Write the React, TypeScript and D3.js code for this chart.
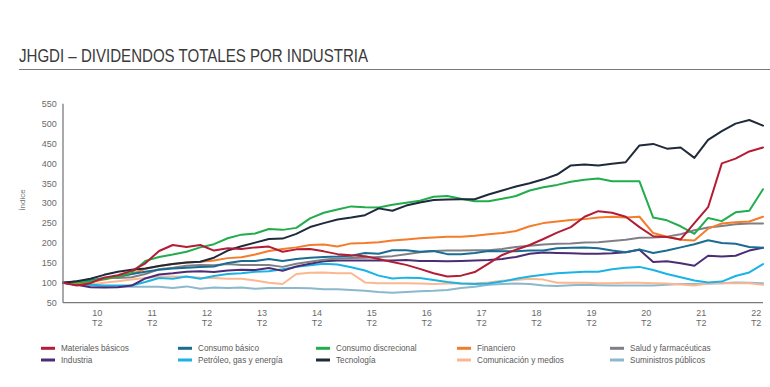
import React from "react";
import * as d3 from "d3";

const title = "JHGDI – DIVIDENDOS TOTALES POR INDUSTRIA";
const yAxisLabel = "Índice";
const yTicks = [50, 100, 150, 200, 250, 300, 350, 400, 450, 500, 550];
const yearLabels = ["10", "11", "12", "13", "14", "15", "16", "17", "18", "19", "20", "21", "22"];
const quarterLabel = "T2";

const materiales = [100, 93, 99, 113, 119, 130, 149, 180, 195, 190, 195, 181, 187, 185, 189, 191, 178, 184, 185, 179, 172, 169, 167, 160, 152, 145, 135, 124, 116, 118, 127, 148, 170, 183, 195, 210, 226, 240, 266, 280, 276, 266, 240, 217, 215, 209, 250, 290, 400, 412, 430, 440];
const consumoBasico = [100, 103, 106, 110, 116, 122, 128, 133, 136, 138, 140, 141, 150, 155, 155, 160, 155, 160, 163, 165, 166, 168, 175, 173, 182, 182, 178, 180, 172, 172, 175, 180, 179, 179, 181, 181, 187, 188, 189, 187, 181, 177, 184, 175, 181, 189, 197, 207, 200, 198, 190, 188];
const consumoDiscrecional = [100, 101, 104, 110, 115, 125, 155, 165, 171, 178, 189, 197, 212, 221, 224, 235, 233, 238, 262, 276, 284, 292, 290, 289, 296, 301, 306, 316, 318, 311, 305, 305, 311, 318, 332, 340, 346, 354, 359, 362, 355, 355, 355, 264, 257, 242, 223, 263, 255, 277, 281, 335];
const financiero = [100, 98, 102, 108, 115, 122, 135, 142, 147, 151, 153, 156, 162, 164, 171, 180, 185, 189, 195, 196, 191, 199, 200, 202, 206, 209, 212, 214, 216, 216, 218, 222, 225, 230, 242, 250, 254, 258, 260, 264, 266, 264, 266, 225, 216, 208, 206, 236, 249, 252, 254, 266];
const salud = [100, 102, 106, 113, 112, 114, 122, 134, 138, 143, 145, 144, 147, 145, 145, 145, 140, 148, 153, 158, 161, 162, 163, 165, 167, 172, 177, 180, 181, 181, 182, 182, 185, 190, 193, 196, 198, 199, 201, 202, 205, 208, 213, 214, 216, 222, 232, 239, 243, 247, 249, 249];
const industria = [100, 95, 89, 88, 89, 93, 111, 121, 124, 128, 129, 127, 131, 133, 132, 137, 130, 141, 148, 154, 156, 156, 156, 156, 156, 157, 155, 155, 154, 155, 156, 157, 160, 165, 173, 176, 175, 174, 173, 173, 174, 177, 183, 152, 154, 149, 143, 168, 166, 168, 181, 188];
const petroleo = [100, 96, 95, 93, 93, 93, 102, 112, 110, 116, 110, 117, 122, 124, 128, 129, 134, 140, 144, 148, 146, 139, 131, 118, 111, 113, 112, 107, 102, 98, 97, 98, 103, 110, 116, 120, 124, 126, 128, 128, 134, 138, 140, 132, 122, 114, 106, 101, 103, 117, 126, 147];
const tecnologia = [100, 104, 110, 120, 128, 133, 136, 142, 147, 151, 153, 163, 181, 192, 201, 210, 211, 223, 240, 250, 259, 264, 270, 287, 281, 294, 302, 308, 309, 310, 310, 322, 332, 342, 350, 360, 372, 395, 397, 395, 399, 403, 445, 449, 437, 440, 414, 459, 481, 500, 509, 495];
const comunicacion = [100, 95, 96, 100, 104, 108, 112, 116, 116, 115, 113, 112, 110, 110, 106, 100, 97, 122, 125, 126, 124, 124, 101, 99, 99, 99, 98, 97, 98, 98, 98, 101, 105, 107, 110, 108, 100, 100, 100, 99, 99, 100, 100, 99, 98, 96, 93, 98, 99, 99, 99, 95];
const suministros = [100, 95, 93, 91, 90, 90, 90, 90, 87, 91, 85, 88, 87, 88, 85, 87, 87, 87, 86, 84, 84, 82, 80, 77, 75, 77, 79, 80, 82, 87, 90, 95, 97, 98, 97, 93, 92, 94, 95, 94, 93, 93, 93, 93, 95, 97, 97, 98, 99, 101, 100, 99];

const seriesNames = [
  "Materiales básicos",
  "Consumo básico",
  "Consumo discrecional",
  "Financiero",
  "Salud y farmacéuticas",
  "Industria",
  "Petróleo, gas y energía",
  "Tecnología",
  "Comunicación y medios",
  "Suministros públicos",
];
const seriesValues = [materiales, consumoBasico, consumoDiscrecional, financiero, salud, industria, petroleo, tecnologia, comunicacion, suministros];
const seriesColors = ["#b41c36", "#1b6c93", "#22ad4c", "#f47c2b", "#7f7f86", "#4b2c75", "#1ab3e6", "#1f2a3b", "#fbb791", "#8bb8cd"];
const drawOrder = [9, 8, 6, 5, 4, 3, 1, 2, 7, 0];

const W = 770;
const H = 387;
const plot = { left: 63, right: 763, top: 103.7, bottom: 302.7 };

export default function App() {
  const n = tecnologia.length;
  const x = d3.scaleLinear().domain([0, n - 1]).range([plot.left, plot.right]);
  const y = d3.scaleLinear().domain([50, 550]).range([plot.bottom, plot.top]);
  const line = d3
    .line<number>()
    .x((_, i) => x(i))
    .y((v) => y(v));

  const legendCols = [41, 178, 316, 457, 610];
  const legendRows = [348.3, 360];
  const font = "'Liberation Sans', Arial, sans-serif";

  return (
    <svg
      width={W}
      height={H}
      style={{ position: "absolute", left: 0, top: 0, background: "#fff" }}
      fontFamily={font}
    >
      <text x={19} y={61.5} fontSize={18} fill="#3a3a3a" textLength={349} lengthAdjust="spacingAndGlyphs">
        {title}
      </text>
      <line x1={19} x2={W} y1={69.5} y2={69.5} stroke="#7a7a7a" strokeWidth={1.2} />

      <text
        transform={`translate(24.5,200) rotate(-90)`}
        textAnchor="middle"
        fontSize={8}
        fill="#777"
      >
        {yAxisLabel}
      </text>

      {yTicks.map((t) => (
        <text key={t} x={56.7} y={y(t) + 3.2} textAnchor="end" fontSize={9} fill="#6a6a6a">
          {t}
        </text>
      ))}

      {yearLabels.map((lab, k) => {
        const xi = x(2.5 + 4 * k);
        return (
          <g key={lab}>
            <text x={xi} y={316.3} textAnchor="middle" fontSize={9} fill="#6a6a6a">
              {lab}
            </text>
            <text x={xi} y={326} textAnchor="middle" fontSize={9} fill="#6a6a6a">
              {quarterLabel}
            </text>
          </g>
        );
      })}

      {drawOrder.map((si) => (
        <path
          key={si}
          d={line(seriesValues[si]) || ""}
          fill="none"
          stroke={seriesColors[si]}
          strokeWidth={2}
          strokeLinejoin="round"
          strokeLinecap="round"
        />
      ))}

      <line x1={plot.left} x2={plot.left} y1={plot.top} y2={plot.bottom} stroke="#7a7a7a" strokeWidth={1.3} />
      <line x1={plot.left} x2={plot.right} y1={plot.bottom} y2={plot.bottom} stroke="#7a7a7a" strokeWidth={1.3} />

      {seriesNames.map((name, i) => {
        const col = i % 5;
        const row = Math.floor(i / 5);
        const lx = legendCols[col];
        const ly = legendRows[row];
        return (
          <g key={name}>
            <line x1={lx} x2={lx + 14} y1={ly} y2={ly} stroke={seriesColors[i]} strokeWidth={3} />
            <text x={lx + 20} y={ly + 3} fontSize={8.2} fill="#5a5a5a">
              {name}
            </text>
          </g>
        );
      })}
    </svg>
  );
}
